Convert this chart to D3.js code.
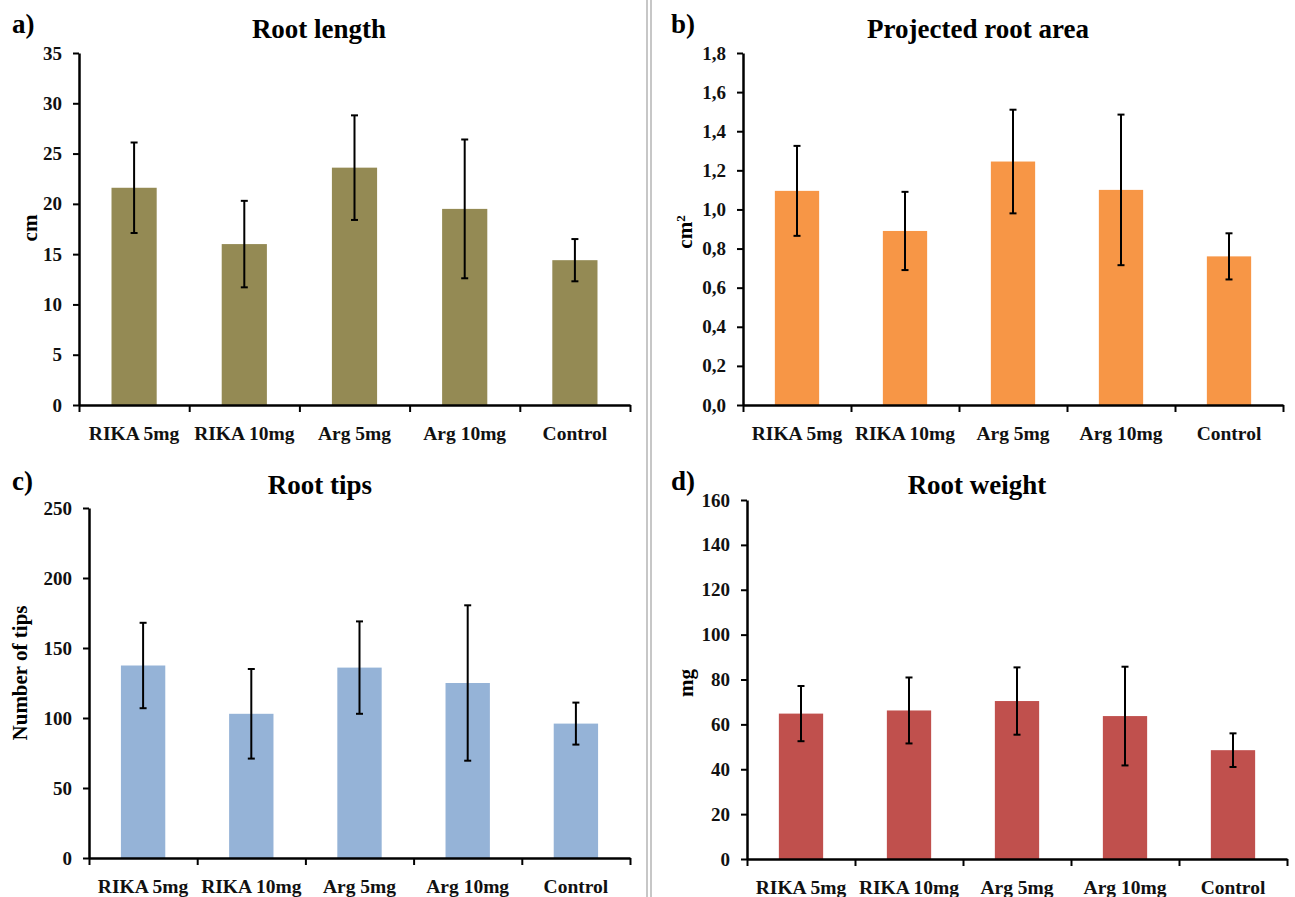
<!DOCTYPE html>
<html>
<head>
<meta charset="utf-8">
<script src="https://cdn.jsdelivr.net/npm/d3@7"></script>
<style>
  html, body { margin: 0; padding: 0; background: #fff; }
  svg { display: block; font-family: "Liberation Serif", "Times New Roman", serif; font-weight: bold; }
</style>
</head>
<body>
<svg id="chart" width="1295" height="897"></svg>
<script>
// ---- data ----
const categories = ["RIKA 5mg", "RIKA 10mg", "Arg 5mg", "Arg 10mg", "Control"];

const lengthMeans = [21.6, 16.0, 23.6, 19.5, 14.4];
const lengthSD    = [4.5, 4.3, 5.2, 6.9, 2.1];
const lengthTicks = [0, 5, 10, 15, 20, 25, 30, 35];

const areaMeans = [1.095, 0.89, 1.245, 1.10, 0.76];
const areaSD    = [0.23, 0.20, 0.265, 0.385, 0.118];
const areaTicks = [0, 0.2, 0.4, 0.6, 0.8, 1.0, 1.2, 1.4, 1.6, 1.8];

const tipsMeans = [137.5, 103, 136, 125, 96];
const tipsSD    = [30.5, 32, 33, 55.5, 15];
const tipsTicks = [0, 50, 100, 150, 200, 250];

const weightMeans = [64.8, 66.2, 70.4, 63.7, 48.5];
const weightSD    = [12.3, 14.7, 15.0, 22.0, 7.5];
const weightTicks = [0, 20, 40, 60, 80, 100, 120, 140, 160];

// ---- layout ----
const svg = d3.select("#chart");

// divider lines
[647, 651].forEach(x => {
  svg.append("line").attr("x1", x).attr("x2", x).attr("y1", 0).attr("y2", 897)
    .attr("stroke", "#b4b4b4").attr("stroke-width", 1.5);
});

const panels = [
  { letter: "a)", title: "Root length", means: lengthMeans, sd: lengthSD, ticks: lengthTicks,
    fmt: d3.format("d"), color: "#948A54",
    x0: 79, x1: 630, yTop: 53, yBot: 405, titleX: 319, titleY: 38, letterX: 12, letterY: 33,
    ylabel: "cm", ylabelX: 37, ylabelY: 228 },
  { letter: "b)", title: "Projected root area", means: areaMeans, sd: areaSD, ticks: areaTicks,
    fmt: d => d3.format(".1f")(d).replace(".", ","), color: "#F79646",
    x0: 743, x1: 1283, yTop: 53, yBot: 405, titleX: 978, titleY: 38, letterX: 671, letterY: 33,
    ylabel: "cm", sup: "2", ylabelX: 692, ylabelY: 232 },
  { letter: "c)", title: "Root tips", means: tipsMeans, sd: tipsSD, ticks: tipsTicks,
    fmt: d3.format("d"), color: "#95B3D7",
    x0: 89, x1: 630, yTop: 508, yBot: 858, titleX: 320, titleY: 494, letterX: 12, letterY: 490,
    ylabel: "Number of tips", ylabelX: 27, ylabelY: 673 },
  { letter: "d)", title: "Root weight", means: weightMeans, sd: weightSD, ticks: weightTicks,
    fmt: d3.format("d"), color: "#C0504D",
    x0: 747, x1: 1287, yTop: 500, yBot: 859, titleX: 977, titleY: 494, letterX: 671, letterY: 490,
    ylabel: "mg", ylabelX: 693, ylabelY: 683 }
];

panels.forEach(p => {
  const g = svg.append("g");
  const x = d3.scaleBand().domain(categories).range([p.x0, p.x1])
    .paddingInner(0.59).paddingOuter(0.295);
  const xi = d3.scaleLinear().domain([0, categories.length]).range([p.x0, p.x1]);
  const y = d3.scaleLinear().domain([p.ticks[0], p.ticks[p.ticks.length - 1]]).range([p.yBot, p.yTop]);

  // bars
  g.selectAll("rect.bar").data(p.means).join("rect")
    .attr("class", "bar")
    .attr("x", (d, i) => x(categories[i]))
    .attr("width", x.bandwidth())
    .attr("y", d => y(d))
    .attr("height", d => y(0) - y(d))
    .attr("fill", p.color);

  // error bars
  const eb = g.selectAll("g.err").data(p.means).join("g").attr("class", "err");
  const cx = i => x(categories[i]) + x.bandwidth() / 2;
  eb.append("line")
    .attr("x1", (d, i) => cx(i)).attr("x2", (d, i) => cx(i))
    .attr("y1", (d, i) => y(d + p.sd[i])).attr("y2", (d, i) => y(d - p.sd[i]))
    .attr("stroke", "#000").attr("stroke-width", 2);
  eb.append("line")
    .attr("x1", (d, i) => cx(i) - 3.5).attr("x2", (d, i) => cx(i) + 3.5)
    .attr("y1", (d, i) => y(d + p.sd[i])).attr("y2", (d, i) => y(d + p.sd[i]))
    .attr("stroke", "#000").attr("stroke-width", 2);
  eb.append("line")
    .attr("x1", (d, i) => cx(i) - 3.5).attr("x2", (d, i) => cx(i) + 3.5)
    .attr("y1", (d, i) => y(d - p.sd[i])).attr("y2", (d, i) => y(d - p.sd[i]))
    .attr("stroke", "#000").attr("stroke-width", 2);

  // y axis
  const ya = g.append("g").attr("transform", `translate(${p.x0},0)`)
    .call(d3.axisLeft(y).tickValues(p.ticks).tickFormat(p.fmt).tickSize(6).tickSizeOuter(0).tickPadding(11));
  ya.select(".domain").attr("stroke-width", 2.5);
  ya.selectAll(".tick line").attr("stroke-width", 2);
  ya.selectAll(".tick text").attr("font-size", 19).attr("font-family", "Liberation Serif, serif")
    .attr("font-weight", "bold").attr("fill", "#111");

  // x axis
  const xa = g.append("g").attr("transform", `translate(0,${p.yBot})`)
    .call(d3.axisBottom(xi).tickValues(d3.range(categories.length + 1)).tickFormat("").tickSize(7).tickSizeOuter(0));
  xa.select(".domain").attr("stroke-width", 2.5);
  xa.selectAll(".tick line").attr("stroke-width", 2);

  // category labels
  g.selectAll("text.cat").data(categories).join("text")
    .attr("class", "cat")
    .attr("x", d => x(d) + x.bandwidth() / 2)
    .attr("y", p.yBot + 35)
    .attr("text-anchor", "middle")
    .attr("font-size", 19.5)
    .attr("fill", "#111")
    .text(d => d);

  // title
  g.append("text").attr("x", p.titleX).attr("y", p.titleY)
    .attr("text-anchor", "middle").attr("font-size", 27).attr("fill", "#000").text(p.title);

  // panel letter
  g.append("text").attr("x", p.letterX).attr("y", p.letterY)
    .attr("font-size", 27).attr("fill", "#000").text(p.letter);

  // y label
  const yl = g.append("text")
    .attr("transform", `translate(${p.ylabelX},${p.ylabelY}) rotate(-90)`)
    .attr("text-anchor", "middle").attr("font-size", 21).attr("fill", "#000");
  yl.append("tspan").text(p.ylabel);
  if (p.sup) yl.append("tspan").attr("baseline-shift", "super").attr("font-size", 13).text(p.sup);
});
</script>
</body>
</html>
